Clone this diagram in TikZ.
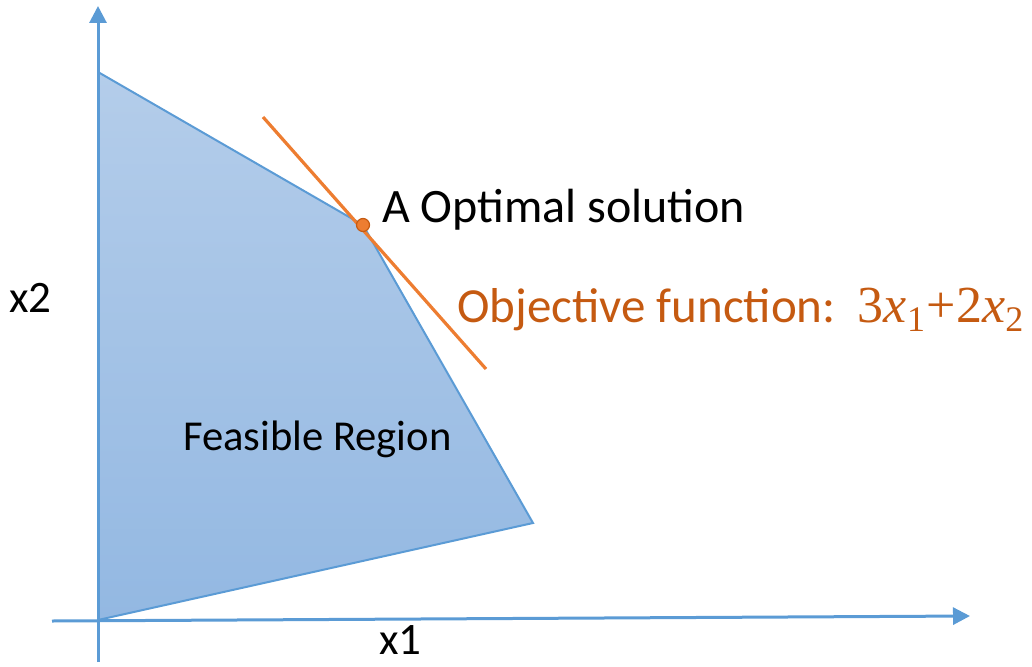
\documentclass[tikz,border=0pt]{standalone}
\usepackage{fontspec}
\setmainfont{Carlito}
\newfontfamily\formfont{Liberation Serif}
\usetikzlibrary{arrows.meta}
\definecolor{axisblue}{HTML}{5B9BD5}
\definecolor{regtop}{HTML}{B4CDEA}
\definecolor{regbot}{HTML}{93B8E2}
\definecolor{objline}{HTML}{ED7D31}
\definecolor{objtext}{HTML}{C55A11}
\newcommand{\lowsub}[1]{\raisebox{-9pt}{\fontsize{36}{40}\selectfont #1}}
\tikzset{
  axis/.style={draw=axisblue, line width=3pt, -{Triangle[length=17pt,width=17pt]}},
  lbl/.style={inner sep=0pt, anchor=base west, font=\fontsize{45}{54}\selectfont},
}
\begin{document}
\begin{tikzpicture}[x=1pt,y=-1pt]
\useasboundingbox (0,0) rectangle (1032,666);
% feasible region
\coordinate (P1) at (98,72);
\coordinate (A) at (363,225);
\coordinate (P3) at (533,523);
\coordinate (O) at (98,620);
\path[top color=regtop, bottom color=regbot] (P1) -- (A) -- (P3) -- (O) -- cycle;
\draw[axisblue, line width=2pt, line join=miter] (P1) -- (A) -- (P3) -- (O);
% axes
\coordinate (ys) at (98,662);
\coordinate (ye) at (98,6);
\coordinate (xs) at (52,621);
\coordinate (xe) at (970,616);
\draw[axis] (ys) -- (ye);
\draw[axis] (xs) -- (xe);
% objective line
\coordinate (L1) at (263,117);
\coordinate (L2) at (486,369);
\draw[objline, line width=3.2pt] (L1) -- (L2);
\node[circle, fill=objline, draw=objtext, line width=1.2pt, minimum size=13pt, inner sep=0pt] (Apt) at (A) {};
% labels
\node[lbl, font=\fontsize{48}{56}\selectfont] (optlab) at (382,222) {A Optimal solution};
\node[lbl, font=\fontsize{49}{56}\selectfont, text=objtext] (objlab) at (457,322) {Objective function:\ \ {\formfont\fontsize{52}{56}\selectfont 3\textit{x}\lowsub{1}\kern1pt+\kern1pt2\textit{x}\lowsub{2}}};
\node[lbl, font=\fontsize{42.6}{50}\selectfont] (feas) at (183,450) {Feasible Region};
\node[lbl] (x2lab) at (9,312) {x2};
\node[lbl] (x1lab) at (379,654) {x1};
\end{tikzpicture}
\end{document}
